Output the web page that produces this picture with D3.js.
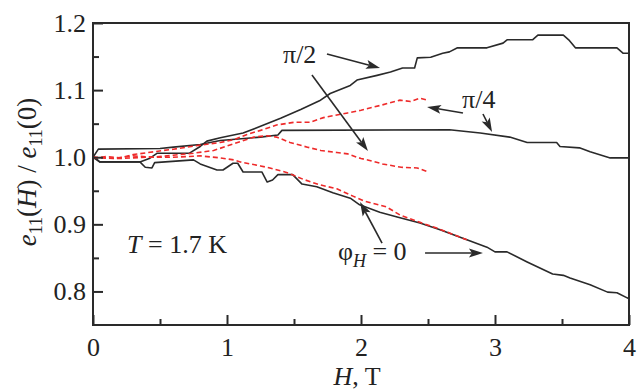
<!DOCTYPE html>
<html><head><meta charset="utf-8">
<script src="https://cdn.jsdelivr.net/npm/d3@7"></script>
<style>body{margin:0;background:#fff}svg{display:block}text{font-family:"Liberation Serif","Times New Roman",serif;fill:#222}</style>
</head><body><svg id="c" width="639" height="392"></svg>
<script>
// ---- data ----
const xTicks = [0, 1, 2, 3, 4];
const xMinor = [0.5, 1.5, 2.5, 3.5];
const yTicks = [0.8, 0.9, 1.0, 1.1, 1.2];
const yMinor = [0.85, 0.95, 1.05, 1.15];
const yTickLabels = ["0.8", "0.9", "1.0", "1.1", "1.2"];

// measured (black solid)
const expPi2 = [[0,1.002],[0.05,0.993],[0.35,0.993],[0.42,0.998],[0.48,1.006],[0.72,1.006],[0.8,1.016],[0.85,1.024],[0.95,1.029],[1.12,1.036],[1.25,1.046],[1.40,1.058],[1.55,1.071],[1.69,1.084],[1.77,1.095],[1.92,1.107],[1.97,1.115],[2.12,1.122],[2.22,1.127],[2.31,1.133],[2.40,1.133],[2.42,1.148],[2.52,1.149],[2.61,1.155],[2.66,1.157],[2.72,1.163],[2.94,1.163],[3.06,1.170],[3.09,1.175],[3.28,1.175],[3.32,1.182],[3.51,1.182],[3.55,1.175],[3.60,1.163],[3.91,1.163],[3.955,1.155],[4.0,1.155]];
const expPi4 = [[0,1.000],[0.04,1.012],[0.5,1.013],[0.6,1.015],[0.8,1.019],[0.95,1.025],[1.25,1.030],[1.38,1.033],[1.41,1.040],[2.66,1.041],[2.89,1.036],[3.11,1.030],[3.24,1.022],[3.46,1.022],[3.485,1.016],[3.63,1.014],[3.71,1.008],[3.86,0.999],[4.0,0.999]];
const expPhi0 = [[0,1.0],[0.05,0.993],[0.35,0.993],[0.39,0.985],[0.44,0.984],[0.46,0.992],[0.75,0.996],[0.8,0.990],[0.925,0.981],[0.97,0.981],[1.045,0.991],[1.08,0.991],[1.12,0.978],[1.26,0.978],[1.30,0.963],[1.34,0.966],[1.38,0.974],[1.49,0.974],[1.56,0.960],[1.67,0.956],[1.79,0.947],[1.92,0.939],[1.99,0.929],[2.14,0.918],[2.27,0.911],[2.44,0.902],[2.59,0.892],[2.79,0.877],[2.94,0.866],[3.0,0.859],[3.09,0.859],[3.24,0.844],[3.43,0.826],[3.51,0.824],[3.56,0.820],[3.71,0.810],[3.84,0.799],[3.91,0.798],[3.99,0.790],[4.0,0.790]];

// calculated (red dashed)
const calcPi2 = [[0,0.998],[0.1,1.001],[0.2,0.999],[0.3,1.004],[0.45,1.008],[0.6,1.012],[0.8,1.018],[0.95,1.022],[1.05,1.026],[1.15,1.034],[1.25,1.040],[1.37,1.048],[1.5,1.052],[1.62,1.052],[1.72,1.059],[1.82,1.063],[1.9,1.066],[2.0,1.070],[2.16,1.078],[2.29,1.085],[2.37,1.083],[2.44,1.088],[2.5,1.085]];
const calcPi4 = [[0,1.0],[0.15,0.998],[0.3,1.002],[0.45,1.0],[0.6,1.003],[0.75,1.006],[0.9,1.010],[1.05,1.02],[1.2,1.03],[1.3,1.032],[1.37,1.030],[1.47,1.022],[1.6,1.015],[1.7,1.010],[1.82,1.007],[1.9,1.005],[2.0,0.998],[2.05,0.996],[2.16,0.990],[2.3,0.985],[2.42,0.984],[2.5,0.978]];
const calcPhi0 = [[0,1.0],[0.2,0.998],[0.4,1.0],[0.6,1.0],[0.8,1.002],[0.95,0.999],[1.05,0.996],[1.1,0.993],[1.25,0.987],[1.32,0.984],[1.45,0.977],[1.57,0.967],[1.69,0.959],[1.82,0.953],[1.94,0.942],[2.02,0.935],[2.19,0.926],[2.29,0.914],[2.44,0.903],[2.57,0.894],[2.79,0.877]];

// annotation arrows [x1,y1,x2,y2] in data units (tip at x2,y2)
const arrows = [
  [1.746,1.1538,2.142,1.133],
  [1.634,1.1225,2.052,1.0092],
  [2.761,1.0659,2.493,1.0748],
  [2.910,1.0644,2.978,1.0376],
  [2.478,0.8572,2.910,0.8572],
  [2.157,0.8721,1.993,0.9332]
];

// ---- chart ----
const W = 639, H = 392;
const m = {l:93, t:23, r:10, b:67};
const svg = d3.select("#c");
const x = d3.scaleLinear().domain([0,4]).range([m.l, W - m.r]);
const y = d3.scaleLinear().domain([0.75,1.2]).range([H - m.b, m.t]);
const ink = "#2a2a2a";

const line = d3.line().x(d => x(d[0])).y(d => y(d[1]));
const g = svg.append("g");
[expPi2, expPi4, expPhi0].forEach(s => g.append("path").attr("d", line(s))
  .attr("fill","none").attr("stroke",ink).attr("stroke-width",1.6).attr("stroke-linejoin","round"));
[calcPi2, calcPi4, calcPhi0].forEach(s => g.append("path").attr("d", line(s))
  .attr("fill","none").attr("stroke","#ee2a2a").attr("stroke-width",1.6).attr("stroke-dasharray","5,3"));

// frame
svg.append("rect").attr("x", x(0)).attr("y", y(1.2)).attr("width", x(4)-x(0)).attr("height", y(0.75)-y(1.2))
  .attr("fill","none").attr("stroke",ink).attr("stroke-width",2);

// axes with inward ticks
const xAx = svg.append("g").attr("transform", `translate(0,${y(0.75)})`);
xAx.call(d3.axisBottom(x).tickValues(xTicks).tickSize(-10).tickPadding(13).tickFormat(d3.format("d")));
xAx.append("g").call(d3.axisBottom(x).tickValues(xMinor).tickSize(-6).tickFormat(""));
const yAx = svg.append("g").attr("transform", `translate(${x(0)},0)`);
yAx.call(d3.axisLeft(y).tickValues(yTicks).tickSize(-10).tickPadding(7).tickFormat((d,i) => yTickLabels[i]));
yAx.append("g").call(d3.axisLeft(y).tickValues(yMinor).tickSize(-6).tickFormat(""));
svg.selectAll(".domain").remove();
svg.selectAll(".tick line").attr("stroke", ink).attr("stroke-width", 2);
svg.selectAll(".tick text").attr("font-family","Liberation Serif").attr("font-size",26).attr("fill",ink);
xAx.selectAll(".tick text").attr("dy","0.71em");

// axis titles
svg.append("text").attr("x", 357).attr("y", 385).attr("text-anchor","middle").attr("font-size",26)
  .html('<tspan font-style="italic">H</tspan>, T');
svg.append("text").attr("transform","translate(36,172) rotate(-90)").attr("text-anchor","middle").attr("font-size",27)
  .html('<tspan font-style="italic">e</tspan><tspan font-size="18" dy="6">11</tspan><tspan dy="-6">(</tspan><tspan font-style="italic">H</tspan>) / <tspan font-style="italic">e</tspan><tspan font-size="18" dy="6">11</tspan><tspan dy="-6">(0)</tspan>');

// labels
svg.append("text").attr("x", x(0.254)).attr("y", y(0.8572)).attr("font-size",26)
  .html('<tspan font-style="italic">T</tspan> = 1.7 K');
svg.append("text").attr("x", x(1.418)).attr("y", y(1.1404)).attr("font-size",26).text("π/2");
svg.append("text").attr("x", x(2.754)).attr("y", y(1.0733)).attr("font-size",26).text("π/4");
svg.append("text").attr("x", x(1.828)).attr("y", y(0.8468)).attr("font-size",26)
  .html('φ<tspan font-style="italic" font-size="18" dy="7">H</tspan><tspan dy="-7"> = 0</tspan>');

// arrows
arrows.forEach(([a,b,c,d]) => {
  const x1 = x(a), y1 = y(b), x2 = x(c), y2 = y(d);
  const ang = Math.atan2(y2-y1, x2-x1), L = 14, w = 4.5;
  const bx = x2 - L*Math.cos(ang), by = y2 - L*Math.sin(ang);
  svg.append("line").attr("x1",x1).attr("y1",y1).attr("x2",bx+3*Math.cos(ang)).attr("y2",by+3*Math.sin(ang))
    .attr("stroke",ink).attr("stroke-width",1.6);
  const p = [[x2,y2],[bx - w*Math.sin(ang), by + w*Math.cos(ang)],[bx + 3*Math.cos(ang), by + 3*Math.sin(ang)],[bx + w*Math.sin(ang), by - w*Math.cos(ang)]];
  svg.append("path").attr("d","M"+p.map(q=>q.join(",")).join("L")+"Z").attr("fill",ink);
});
</script></body></html>
